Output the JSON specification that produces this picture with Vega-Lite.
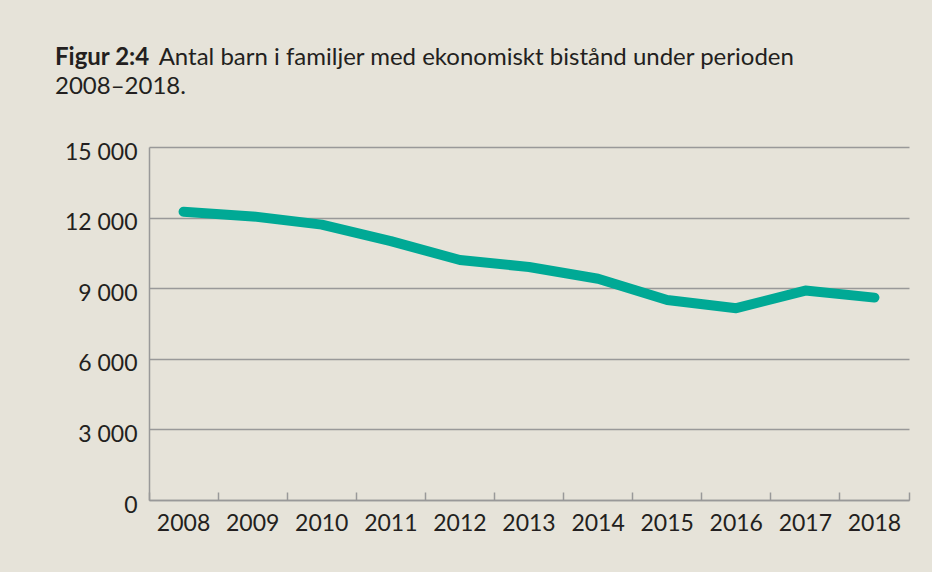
{
  "$schema": "https://vega.github.io/schema/vega-lite/v6.json",
  "width": 760,
  "height": 353,
  "autosize": {"type": "none"},
  "padding": {"left": 149, "top": 147, "right": 23, "bottom": 72},
  "background": "#e6e3d9",
  "title": {
    "text": "Figur 2:4",
    "subtitle": ["\u200b\u00a0\u00a0\u00a0\u00a0\u00a0\u00a0\u00a0\u00a0\u00a0\u00a0\u00a0\u00a0\u00a0\u00a0\u00a0\u00a0\u00a0Antal barn i familjer med ekonomiskt bistånd under perioden", "2008–2018."],
    "anchor": "start",
    "frame": "group",
    "dx": -94,
    "offset": 42,
    "font": "Lato",
    "fontSize": 24,
    "fontWeight": "bold",
    "color": "#231f20",
    "subtitleFont": "Lato",
    "subtitleFontSize": 24,
    "subtitleFontWeight": "normal",
    "subtitleColor": "#231f20",
    "subtitleLineHeight": 29,
    "subtitlePadding": -24
  },
  "data": {
    "values": [
      {"year": "2008", "value": 12250},
      {"year": "2009", "value": 12050},
      {"year": "2010", "value": 11700},
      {"year": "2011", "value": 11000},
      {"year": "2012", "value": 10200},
      {"year": "2013", "value": 9900},
      {"year": "2014", "value": 9400},
      {"year": "2015", "value": 8500},
      {"year": "2016", "value": 8150},
      {"year": "2017", "value": 8900},
      {"year": "2018", "value": 8600}
    ]
  },
  "mark": {"type": "line", "color": "#00a995", "strokeWidth": 10, "strokeCap": "round", "strokeJoin": "round"},
  "encoding": {
    "x": {
      "field": "year",
      "type": "ordinal",
      "scale": {"type": "band", "paddingInner": 0, "paddingOuter": 0},
      "bandPosition": 0.5,
      "axis": {
        "title": null,
        "labelAngle": 0,
        "bandPosition": 1,
        "tickExtra": true,
        "labelOffset": 0,
        "tickSize": -8,
        "labelPadding": 20,
        "domainColor": "#999999",
        "tickColor": "#999999",
        "domainWidth": 1.5,
        "tickWidth": 1.5,
        "grid": false,
        "labelFont": "Lato",
        "labelFontSize": 23,
        "labelColor": "#231f20",
        "labelBaseline": "top"
      }
    },
    "y": {
      "field": "value",
      "type": "quantitative",
      "scale": {"domain": [0, 15000]},
      "axis": {
        "title": null,
        "values": [0, 3000, 6000, 9000, 12000, 15000],
        "ticks": false,
        "tickSize": 0,
        "labelPadding": 12,
        "labelExpr": "datum.value == 0 ? '0' : floor(datum.value / 1000) + ' 000'",
        "gridColor": "#999999",
        "gridWidth": 1.5,
        "domainColor": "#999999",
        "domainWidth": 1.5,
        "labelFont": "Lato",
        "labelFontSize": 23,
        "labelColor": "#231f20",
        "labelOffset": 5
      }
    }
  },
  "config": {"view": {"stroke": null}}
}
